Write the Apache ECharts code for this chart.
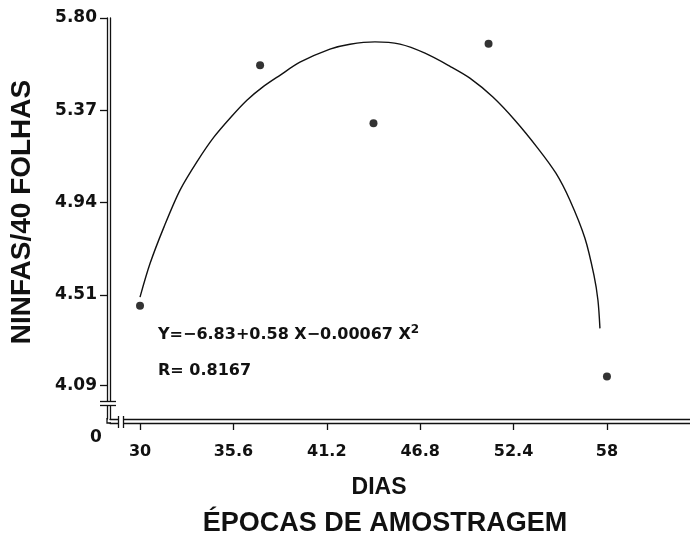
<!DOCTYPE html>
<html><head><meta charset="utf-8">
<script src="https://cdn.jsdelivr.net/npm/echarts@6/dist/echarts.min.js"></script>
<style>html,body{margin:0;padding:0;background:#fff}#c{width:690px;height:536px}</style>
</head><body><div id="c"></div>
<script>
// ---- data ----
const xTickValues = [30, 35.6, 41.2, 46.8, 52.4, 58];
const xTickLabels = ['30', '35.6', '41.2', '46.8', '52.4', '58'];
const yTickValues = [4.09, 4.51, 4.94, 5.37, 5.80];
const yTickLabels = ['4.09', '4.51', '4.94', '5.37', '5.80'];
const yZeroLabel = '0';

const obsDays = [30, 37.2, 44.0, 50.9, 58];
const obsNymphs = [4.46, 5.58, 5.31, 5.68, 4.13];

const curveDays = [30.0, 30.6, 31.44, 32.4, 33.48, 34.44, 35.46, 36.41, 37.37, 38.39, 39.59, 41.39, 42.59, 44.09,
  45.59, 47.09, 48.59, 49.78, 51.16, 52.48, 53.86, 54.94, 55.78, 56.68, 57.22, 57.46, 57.58];
const curveNymphs = [4.50, 4.656, 4.827, 4.998, 5.138, 5.246, 5.339, 5.417, 5.479, 5.533, 5.594, 5.655, 5.678, 5.689,
  5.678, 5.636, 5.575, 5.520, 5.432, 5.324, 5.193, 5.077, 4.951, 4.774, 4.602, 4.485, 4.354];

const yTitle = 'NINFAS/40 FOLHAS';
const xTitle1 = 'DIAS';
const xTitle2 = 'ÉPOCAS DE AMOSTRAGEM';
const equationText = 'Y=−6.83+0.58 X−0.00067 X';
const equationSup = '2';
const rText = 'R= 0.8167';

// ---- chart ----
const INK = '#111';
const NUM_FONT = '"DejaVu Sans", sans-serif';
const TITLE_FONT = '"Liberation Sans", Arial, sans-serif';
const X_MIN = 28.2, X_MAX = 62.98, Y_MIN = 3.932, Y_MAX = 5.80;

function nearestLabel(vals, labels, v) {
  let best = 0;
  for (let i = 1; i < vals.length; i++) if (Math.abs(vals[i] - v) < Math.abs(vals[best] - v)) best = i;
  return labels[best];
}

const chart = echarts.init(document.getElementById('c'), null, { renderer: 'canvas' });
const hidden = { show: false };
const line = { show: true, lineStyle: { color: INK, width: 1.3 } };

chart.setOption({
  backgroundColor: '#fff',
  animation: false,
  grid: { left: 110, right: 0, top: 18, bottom: 117, containLabel: false },
  xAxis: [
    { type: 'value', min: X_MIN, max: X_MAX, position: 'bottom', axisLine: line,
      axisTick: hidden, axisLabel: hidden, splitLine: hidden },
    { type: 'value', min: X_MIN, max: X_MAX, position: 'bottom', offset: 4, axisLine: line,
      axisTick: { show: true, customValues: xTickValues, length: 7, lineStyle: { color: INK, width: 1.3 } },
      axisLabel: { show: true, customValues: xTickValues, margin: 21, color: INK,
        fontFamily: NUM_FONT, fontWeight: 'bold', fontSize: 16,
        formatter: v => nearestLabel(xTickValues, xTickLabels, v) },
      splitLine: hidden }
  ],
  yAxis: [
    { type: 'value', min: Y_MIN, max: Y_MAX, position: 'left', axisLine: line,
      axisTick: hidden, axisLabel: hidden, splitLine: hidden },
    { type: 'value', min: Y_MIN, max: Y_MAX, position: 'left', offset: 3, axisLine: line,
      axisTick: { show: true, customValues: yTickValues, length: 7, lineStyle: { color: INK, width: 1.3 } },
      axisLabel: { show: true, customValues: yTickValues, margin: 10, color: INK,
        fontFamily: NUM_FONT, fontWeight: 'bold', fontSize: 17,
        formatter: v => nearestLabel(yTickValues, yTickLabels, v) },
      splitLine: hidden }
  ],
  series: [
    { type: 'line', xAxisIndex: 0, yAxisIndex: 0, data: curveDays.map((d, i) => [d, curveNymphs[i]]),
      smooth: 0.3, showSymbol: false, silent: true, lineStyle: { color: INK, width: 1.4 } },
    { type: 'scatter', xAxisIndex: 0, yAxisIndex: 0, data: obsDays.map((d, i) => [d, obsNymphs[i]]),
      symbolSize: 8, itemStyle: { color: '#000' }, silent: true }
  ],
  graphic: [
    // y-axis break
    { type: 'rect', shape: { x: 100, y: 401.5, width: 16, height: 4 }, style: { fill: '#fff' }, z: 100 },
    { type: 'line', shape: { x1: 100, y1: 401.5, x2: 116, y2: 401.5 }, style: { stroke: INK, lineWidth: 1.3 }, z: 101 },
    { type: 'line', shape: { x1: 100, y1: 405.5, x2: 116, y2: 405.5 }, style: { stroke: INK, lineWidth: 1.3 }, z: 101 },
    // x-axis break
    { type: 'rect', shape: { x: 118.5, y: 414, width: 5, height: 14 }, style: { fill: '#fff' }, z: 100 },
    { type: 'line', shape: { x1: 118.5, y1: 416, x2: 118.5, y2: 428 }, style: { stroke: INK, lineWidth: 1.3 }, z: 101 },
    { type: 'line', shape: { x1: 123.5, y1: 416, x2: 123.5, y2: 428 }, style: { stroke: INK, lineWidth: 1.3 }, z: 101 },
    // corner
    { type: 'polyline', shape: { points: [[107, 418], [107, 423], [111, 423]] }, style: { stroke: INK, lineWidth: 1.3, fill: null }, z: 101 },
    // zero label
    { type: 'text', x: 96, y: 437.5, style: { text: yZeroLabel, align: 'center', verticalAlign: 'middle',
      fill: INK, font: 'bold 17px ' + NUM_FONT } },
    // titles
    { type: 'text', x: 22, y: 212, rotation: Math.PI / 2, style: { text: yTitle, align: 'center', verticalAlign: 'middle',
      fill: INK, font: 'bold 28px ' + TITLE_FONT } },
    { type: 'text', x: 379, y: 488, style: { text: xTitle1, align: 'center', verticalAlign: 'middle',
      fill: INK, font: 'bold 23px ' + TITLE_FONT } },
    { type: 'text', x: 385, y: 524, style: { text: xTitle2, align: 'center', verticalAlign: 'middle',
      fill: INK, font: 'bold 27px ' + TITLE_FONT } },
    // equation
    { type: 'text', x: 158, y: 335, style: {
      text: '{a|' + equationText + '}{s|' + equationSup + '}',
      align: 'left', verticalAlign: 'middle',
      rich: {
        a: { fontFamily: NUM_FONT, fontWeight: 'bold', fontSize: 16, lineHeight: 22, fill: INK },
        s: { fontFamily: NUM_FONT, fontWeight: 'bold', fontSize: 12, lineHeight: 12, verticalAlign: 'top', fill: INK }
      } } },
    { type: 'text', x: 158, y: 371, style: { text: rText, align: 'left', verticalAlign: 'middle',
      fill: INK, font: 'bold 16px ' + NUM_FONT } }
  ]
});
</script>
</body></html>
